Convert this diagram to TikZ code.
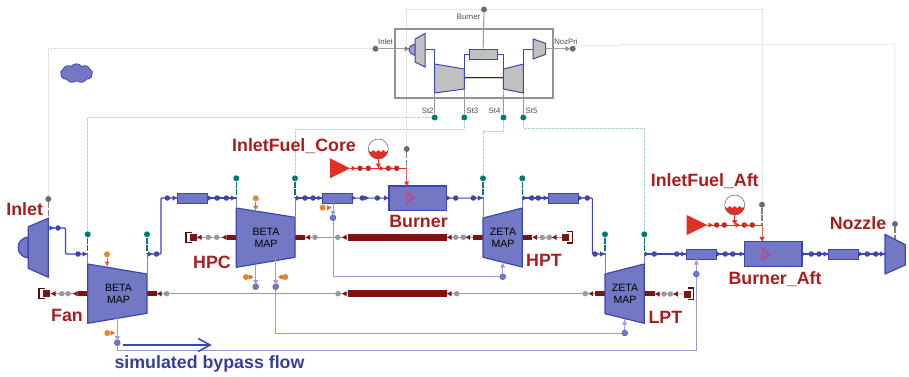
\documentclass[tikz,border=0pt]{standalone}
\usepackage{fontspec}
\setmainfont{Liberation Sans}
\usepackage{tikz}
\usetikzlibrary{arrows.meta,shapes.symbols}

\definecolor{machfill}{HTML}{7378C4}
\definecolor{machline}{HTML}{3B47AE}
\definecolor{bleedline}{HTML}{9A9FDC}
\definecolor{dkred}{HTML}{7A1512}
\definecolor{lblred}{HTML}{A81E1E}
\definecolor{fuelred}{HTML}{E23024}
\definecolor{tealport}{HTML}{007A75}
\definecolor{orangeport}{HTML}{E08A20}
\definecolor{orangetip}{HTML}{F0602A}
\definecolor{subfill}{HTML}{C0C0C0}

\tikzset{
  machine/.style={draw=machline, fill=machfill, line width=1.2pt, line join=round},
  submach/.style={draw=machline, fill=subfill, line width=1pt},
  pipe/.style={draw=machline, fill=machfill, line width=1pt, minimum height=10pt, inner sep=0pt},
  flow/.style={draw=machline, line width=1.1pt, rounded corners=1pt},
  bleed/.style={draw=bleedline, line width=0.9pt},
  gline/.style={draw=gray!80, line width=0.8pt},
  gdash/.style={draw=gray!28, line width=0.8pt, dash pattern=on 3pt off 1pt},
  tdash/.style={draw=tealport!32, line width=0.8pt, dash pattern=on 3pt off 1pt},
  portdash/.style={line width=1.1pt, dash pattern=on 6pt off 1.5pt},
  port/.style={circle, inner sep=0pt, minimum size=6pt},
  gport/.style={port, fill=gray!85!black},
  tport/.style={port, fill=tealport},
  oport/.style={port, fill=orangeport},
  bport/.style={port, fill=machfill, draw=machline, line width=0.3pt},
  bdot/.style={port, minimum size=5.5pt, fill=machline},
  sdot/.style={port, minimum size=5.5pt, fill=gray!80},
  rdot/.style={port, minimum size=5.5pt, fill=fuelred!85!black},
  stub/.style={fill=dkred, inner sep=0pt, minimum height=5.5pt},
  lbl/.style={font=\bfseries\fontsize{17.8}{18}\selectfont, text=lblred, inner sep=0pt},
  sublbl/.style={font=\fontsize{7.8}{9}\selectfont, text=black!70, inner sep=0pt},
  maplbl/.style={font=\fontsize{10.6}{11.8}\selectfont, align=center, inner sep=0pt},
  tank/.style={circle, draw=gray!70!black, fill=white, line width=0.5pt, minimum size=20pt, inner sep=0pt,
    path picture={\fill[fuelred, shift={(path picture bounding box.center)}]
      (-10,1) .. controls (-8,3.5) and (-7,3.5) .. (-5,1) .. controls (-4,3.5) and (-2,3.5) .. (0,1)
      .. controls (2,3.5) and (4,3.5) .. (5,1) .. controls (7,3.5) and (8,3.5) .. (10,1)
      -- (10,11) -- (-10,11) -- cycle;}}
}

\newcommand{\flowtip}[4]{\fill[#4,shift={(#1,#2)},rotate=#3] (0,0) -- (-4.5,-2.6) -- (-4.5,2.6) -- cycle;}

\begin{document}
\begin{tikzpicture}[x=1pt,y=-1pt]
  \useasboundingbox (0,0) rectangle (909,376);

  % Ports of the engine sub-model
  \node[gport] (SubInlet) at (375.5,48.7) {};
  \node[gport] (SubBurner) at (484,9.5) {};
  \node[gport] (SubNoz) at (572.7,48.7) {};
  \node[tport] (St2) at (434.7,117.5) {};
  \node[tport] (St3) at (464.3,117.5) {};
  \node[tport] (St4) at (503.5,117.5) {};
  \node[tport] (St5) at (523.3,117.5) {};

  % Ports of the big model
  \node[gport] (InletPort) at (48.3,199) {};
  \node[tport] (FanPortIn) at (87.7,234.3) {};
  \node[tport] (FanPortOut) at (147,234.3) {};
  \node[tport] (HPCPortIn) at (236.3,178.3) {};
  \node[tport] (HPCPortOut) at (295,178.3) {};
  \node[tport] (HPTPortIn) at (483,178.3) {};
  \node[tport] (HPTPortOut) at (522.3,178.3) {};
  \node[tport] (LPTPortIn) at (605,234.3) {};
  \node[tport] (LPTPortOut) at (644.3,234.3) {};
  \node[gport] (CorePort) at (406.7,149) {};
  \node[gport] (AftPort) at (762,204.7) {};
  \node[gport] (NozPort) at (895,224) {};

  % Dashed signal lines
  \draw[gdash] (SubInlet) -| (InletPort);
  \draw[gdash] (SubBurner) -| (CorePort);
  \draw[gdash] (SubBurner) -| (AftPort);
  \draw[gdash] (SubNoz) -- ++(4,-3) -- ++(44,0) -- ++(0,-1.5) -| (NozPort);
  \draw[tdash] (St2) -| (FanPortIn);
  \draw[tdash] (St3) -- ++(0,11.5) -| (HPCPortOut);
  \draw[tdash] (St4) -- ++(0,13.5) -| (HPTPortIn);
  \draw[tdash] (St5) -- ++(0,10.8) -| (LPTPortOut);

  % Cloud
  \node[cloud, cloud puffs=9, cloud puff arc=105, aspect=1.7, draw=machline, fill=machfill, line width=0.8pt,
    minimum width=32pt, minimum height=19pt, inner sep=0pt] (Cloud) at (76.5,73.3) {};

  % Sub-model box
  \node[draw=gray!85, line width=1.1pt, minimum width=158pt, minimum height=69pt, inner sep=0pt] (SubBox) at (474,63.5) {};
  \node[sublbl] (SubLblInlet) at (385.5,41.5) {Inlet};
  \node[sublbl] (SubLblBurner) at (468.5,17) {Burner};
  \node[sublbl] (SubLblNoz) at (566,41.7) {NozPri};
  \node[sublbl] (SubLblSt2) at (427.7,110.7) {St2};
  \node[sublbl] (SubLblSt3) at (472.3,110.7) {St3};
  \node[sublbl] (SubLblSt4) at (494.5,110.7) {St4};
  \node[sublbl] (SubLblSt5) at (531.5,110.7) {St5};

  \node[pipe, fill=subfill, minimum width=28pt] (SubComb) at (483,54) {};
  \draw[gline, line width=1.1pt, gray!75] (SubBurner) -- (SubComb);
  \draw[gline, line width=1.1pt, gray!75] (SubInlet) -- (409,48.7);
  \flowtip{409}{48.7}{0}{gray}
  \flowtip{570}{48.7}{0}{gray}

  \draw[submach, fill=machfill!40!subfill] (415,44.2) .. controls (411,45) and (409,47) .. (409,49.7)
     .. controls (409,52) and (411,54.5) .. (415,55.3) -- cycle;
  \draw[submach] (415,39) -- (425,33.5) -- (425,67) -- (415,62) -- cycle;
  \draw[submach] (434.7,64) coordinate (SubCL) -- (464.3,69) coordinate (SubCR) -- (464.3,89) coordinate (SubCRb) -- (434.7,93) coordinate (SubCLb) -- cycle;
  \draw[submach] (503.3,69) coordinate (SubTL) -- (523.3,64) coordinate (SubTR) -- (523.3,93) coordinate (SubTRb) -- (503.3,89) coordinate (SubTLb) -- cycle;
  \draw[submach] (533,39) -- (545.7,43.3) -- (545.7,54.3) -- (533,59) -- cycle;

  \draw[machline, line width=0.8pt] (425,49) -| (SubCL);
  \draw[machline, line width=0.8pt] (SubCR) |- (SubComb.west);
  \draw[machline, line width=0.8pt] (SubComb.east) -| (SubTL);
  \draw[machline, line width=0.8pt] (SubTR) |- (533,49);
  \draw[gline, line width=1.1pt, gray!75] (545.7,48.7) -- (SubNoz);
  \draw[gline] (SubCLb) -- (St2);
  \draw[gline] (SubCRb) -- (St3);
  \draw[gline] (SubTLb) -- (St4);
  \draw[gline] (SubTRb) -- (St5);
  \draw[dkred!80!black, line width=0.9pt, double=gray!40, double distance=0.6pt] (464.9,78) -- (502.7,78);

  % Shaft parts
  \node[stub, minimum width=10pt] (FanStubL) at (82.7,293.7) {};
  \node[stub, minimum width=10pt] (FanStubR) at (152,293.7) {};
  \node[stub, minimum width=10pt] (LPTStubL) at (600,293.7) {};
  \node[stub, minimum width=10pt] (LPTStubR) at (649.5,293.7) {};
  \node[stub, minimum width=10pt] (HPCStubL) at (231.5,237.3) {};
  \node[stub, minimum width=10pt] (HPCStubR) at (300,237.3) {};
  \node[stub, minimum width=10pt] (HPTStubL) at (478,237.3) {};
  \node[stub, minimum width=10pt] (HPTStubR) at (527.3,237.3) {};
  \node[stub, minimum width=99pt, minimum height=6.5pt] (LowShaft) at (397.5,293.7) {};
  \node[stub, minimum width=99pt, minimum height=6.5pt] (HighShaft) at (397,237.3) {};
  \node[stub, minimum width=7pt, minimum height=7pt] (FanEnd) at (46.5,293.7) {};
  \node[stub, minimum width=7pt, minimum height=7pt] (HPCEnd) at (193.5,237.3) {};
  \node[stub, minimum width=7pt, minimum height=7pt] (HPTEnd) at (565.8,237.3) {};
  \node[stub, minimum width=7pt, minimum height=7pt] (LPTEnd) at (687.2,294) {};

  \draw[gline] (FanEnd) -- (FanStubL);
  \draw[gline] (FanStubR) -- (LowShaft);
  \draw[gline] (LowShaft) -- (LPTStubL);
  \draw[gline] (LPTStubR) -- (LPTEnd);
  \draw[gline] (HPCEnd) -- (HPCStubL);
  \draw[gline] (HPCStubR) -- (HighShaft);
  \draw[gline] (HighShaft) -- (HPTStubL);
  \draw[gline] (HPTStubR) -- (HPTEnd);

  % Shaft end caps
  \draw[dkred!70!black, line width=1.4pt] (45,288.5) -- (39,288.5) -- (39,298.5) -- (45,298.5);
  \draw[dkred!70!black, line width=1.4pt] (192,232.7) -- (186,232.7) -- (186,242.7) -- (192,242.7);
  \draw[dkred!70!black, line width=1.4pt] (567,231.7) -- (572.5,231.7) -- (572.5,243) -- (567,243);
  \draw[dkred!70!black, line width=1.4pt] (688,288) -- (693.5,288) -- (693.5,299.3) -- (688,299.3);

  \foreach \x/\y [count=\i] in {61.7/293.7,68/293.7,166.7/293.7,338/293.7,456.7/293.7,585.3/293.7,
      208.3/237.3,216.7/237.3,315/237.3,337.7/237.3,455.7/237.3,463.3/237.3,542.3/237.3,549.3/237.3,664/294,670.3/294}
    \node[sdot] (sdot\i) at (\x,\y) {};
  \foreach \x/\y in {51/293.7,73/293.7,157/293.7,342/293.7,447/293.7,588.7/293.7,
      197/237.3,222/237.3,305.5/237.3,342/237.3,447/237.3,465.7/237.3,532.5/237.3,552/237.3,655/294,673.3/294}
    {\flowtip{\x}{\y}{180}{dkred}}

  % Flow nodes
  \node[pipe, minimum width=30pt] (Duct1) at (192.7,198) {};
  \node[pipe, minimum width=30pt] (Duct2) at (337.7,198) {};
  \node[pipe, minimum width=30pt] (Duct3) at (563.3,198) {};
  \node[pipe, minimum width=30pt] (Duct4) at (701,254) {};
  \node[pipe, minimum width=30pt] (Duct5) at (843.7,254) {};
  \node[pipe, line width=1.2pt, minimum width=57.7pt, minimum height=24.7pt] (Burner) at (417.8,198.3) {};
  \node[pipe, line width=1.2pt, minimum width=57.3pt, minimum height=25.4pt] (BurnerAft) at (773.3,254) {};

  % Inlet
  \draw[machine] (28.3,237) .. controls (21,238) and (18,243) .. (18.3,247.5) .. controls (18,252) and (21,257) .. (28.3,258) -- cycle;
  \draw[machine] (28.3,226.7) -- (48.3,218.3) coordinate (InletT) -- (48.3,277.3) -- (28.3,268.3) -- cycle;

  % Fan
  \draw[machine] (87.7,264) coordinate (FanTL) -- (147,274) coordinate (FanTR) -- (147,313.3) -- (87.7,323.3) -- cycle;
  \node[maplbl] (FanMap) at (118.5,293.7) {BETA\\MAP};
  % HPC
  \draw[machine] (236.3,208) coordinate (HPCTL) -- (295,217.3) coordinate (HPCTR) -- (295,257.3) -- (236.3,267.3) -- cycle;
  \node[maplbl] (HPCMap) at (266,237.5) {BETA\\MAP};
  % HPT
  \draw[machine] (483,218) coordinate (HPTTL) -- (522.3,208) coordinate (HPTTR) -- (522.3,267) -- (483,257.3) -- cycle;
  \node[maplbl] (HPTMap) at (503,237.8) {ZETA\\MAP};
  % LPT
  \draw[machine] (605,274) coordinate (LPTTL) -- (644.3,264) coordinate (LPTTR) -- (644.3,323.3) -- (605,313.7) -- cycle;
  \node[maplbl] (LPTMap) at (625,294) {ZETA\\MAP};
  % Nozzle
  \draw[machine] (885,234.3) -- (905.3,244.7) -- (905.3,265) -- (885,274) -- cycle;

  % Main gas path
  \coordinate (InletOut) at (48.3,228);
  \coordinate (FanIn) at (87.7,254);
  \coordinate (FanOut) at (147,254);
  \coordinate (HPCIn) at (236.3,198);
  \coordinate (HPCOut) at (295,198);
  \coordinate (HPTIn) at (483,198);
  \coordinate (HPTOut) at (522.3,198);
  \coordinate (LPTIn) at (605,254);
  \coordinate (LPTOut) at (644.3,254);
  \coordinate (NozIn) at (885,254);
  \coordinate (NozT) at (895,239);

  \draw[flow] (InletOut) -- (65.5,228) |- (FanIn);
  \draw[flow] (FanOut) -- (161,254) |- (Duct1.west);
  \draw[flow] (Duct1) -- (HPCIn);
  \draw[flow] (HPCOut) -- (Duct2);
  \draw[flow] (Duct2) -- (Burner);
  \draw[flow] (Burner) -- (HPTIn);
  \draw[flow] (HPTOut) -- (Duct3);
  \draw[flow] (Duct3.east) -- (592.3,198) |- (LPTIn);
  \draw[flow] (LPTOut) -- (Duct4);
  \draw[flow] (Duct4) -- (BurnerAft);
  \draw[flow] (BurnerAft) -- (Duct5);
  \draw[flow] (Duct5) -- (NozIn);

  % Station ports down to the machines
  \foreach \a/\b/\c in {FanPortIn/FanIn/FanTL,FanPortOut/FanOut/FanTR,HPCPortIn/HPCIn/HPCTL,HPCPortOut/HPCOut/HPCTR,
      HPTPortIn/HPTIn/HPTTL,HPTPortOut/HPTOut/HPTTR,LPTPortIn/LPTIn/LPTTL,LPTPortOut/LPTOut/LPTTR}
  {
    \draw[tealport, portdash] (\a) -- (\b);
    \draw[machline!70!white, line width=0.9pt] (\b) -- (\c);
  }
  \draw[gray, portdash] (InletPort) -- (InletT);
  \draw[gray, portdash] (NozPort) -- (NozT);

  % Flow dots and tips
  \foreach \x/\y [count=\i] in {58/228,78/254,156.5/254,167.3/198,217/198,226.3/198,305/198,313/198,362.3/198,377.3/198,
      455.7/198,473.3/198,531.7/198,538.3/198,587.3/198,595/254,654.3/254,676.7/254,725.3/254,732.7/254,811.3/254,819/254,867.3/254,875.7/254}
    \node[bdot] (bdot\i) at (\x,\y) {};
  \foreach \x/\y in {54/228,87/254,152.5/254,177/198,212.5/198,222/198,235.5/198,300.5/198,322/198,356/198,369/198,388.5/198,
      451/198,482.5/198,527/198,548/198,583/198,604.5/254,649/254,685.5/254,721/254,744/254,806/254,828/254,863/254,884.5/254}
    {\flowtip{\x}{\y}{0}{machline}}

  % Bleed lines
  \node[bport] (FanBleed) at (117.3,342.7) {};
  \node[bport] (HPCBleedA) at (255.7,286.7) {};
  \node[bport] (HPCBleedB) at (275.7,286.7) {};
  \node[bport] (DuctBleed) at (333,217.7) {};
  \node[bport] (HPTCool) at (502.7,276.7) {};
  \node[bport] (LPTCool) at (624.7,333) {};
  \node[bport] (AftMix) at (696.3,274) {};

  \draw[bleed] (117.3,318) -- (FanBleed);
  \draw[bleed] (FanBleed) |- (696.3,350.7) -- (AftMix);
  \draw[bleed] (AftMix) -- (696.3,259);
  \draw[bleed] (255.7,265) -- (HPCBleedA);
  \draw[bleed] (275.7,258) -- (HPCBleedB);
  \draw[bleed] (HPCBleedB) |- (LPTCool);
  \draw[bleed] (LPTCool) -- (624.7,319);
  \draw[bleed] (333,203) -- (DuctBleed);
  \draw[bleed] (DuctBleed) |- (HPTCool);
  \draw[bleed] (HPTCool) -- (502.7,262);
  \flowtip{117.3}{340.5}{-90}{bleedline}
  \flowtip{255.7}{284.5}{-90}{bleedline}
  \flowtip{275.7}{284.5}{-90}{bleedline}
  \flowtip{333}{215.5}{-90}{bleedline}
  \flowtip{696.3}{260}{90}{bleedline}
  \flowtip{502.7}{263}{90}{bleedline}
  \flowtip{624.7}{320}{90}{bleedline}

  % Map inputs
  \node[oport] (FanMapIn) at (107,254.3) {};
  \node[oport] (HPCMapIn) at (255.7,198.3) {};
  \node[oport] (FanBleedIn) at (107.3,333) {};
  \node[oport] (HPCBleedInA) at (246,277) {};
  \node[oport] (HPCBleedInB) at (285.3,277) {};
  \node[oport] (DuctBleedIn) at (322.7,207.7) {};
  \draw[orangetip, line width=0.7pt] (FanMapIn) -- (107,266);
  \draw[orangetip, line width=0.7pt] (HPCMapIn) -- (255.7,210);
  \flowtip{107}{266}{-90}{orangetip}
  \flowtip{255.7}{210}{-90}{orangetip}
  \flowtip{115}{333}{0}{orangetip}
  \flowtip{253.5}{277}{0}{orangetip}
  \flowtip{278}{277}{180}{orangetip}
  \flowtip{331.5}{207.7}{0}{orangetip}

  % Fuel for the core burner
  \node[tank] (CoreTank) at (378.3,149) {};
  \fill[fuelred] (330,158.3) -- (350,168.3) coordinate (CoreFuel) -- (330,178.3) -- cycle;
  \coordinate (CoreJoin) at (406.7,168.3);
  \coordinate (CoreDrop) at (406.7,186);
  \draw[fuelred, line width=0.8pt] (CoreFuel) -- (CoreJoin);
  \draw[fuelred, line width=0.8pt] (CoreTank) -- (378.3,168.3);
  \draw[gray, portdash] (CorePort) -- (CoreJoin);
  \draw[fuelred!75!white, line width=0.9pt] (CoreJoin) -- (CoreDrop);
  \foreach \x [count=\i] in {360,368.3,388.3,396.7}
    \node[rdot] (crdot\i) at (\x,168.3) {};
  \foreach \x in {356,384,392.5}
    {\flowtip{\x}{168.3}{0}{fuelred}}
  \flowtip{378.3}{168}{-90}{fuelred}
  \flowtip{406.7}{186}{-90}{fuelred}

  % Fuel for the aft burner
  \node[tank] (AftTank) at (734.7,205) {};
  \fill[fuelred] (686.7,215) -- (707.3,225) coordinate (AftFuel) -- (686.7,235) -- cycle;
  \coordinate (AftJoin) at (762,225);
  \coordinate (AftDrop) at (762,241.3);
  \draw[fuelred, line width=0.8pt] (AftFuel) -- (AftJoin);
  \draw[fuelred, line width=0.8pt] (AftTank) -- (734.7,225);
  \draw[gray, portdash] (AftPort) -- (AftJoin);
  \draw[fuelred!75!white, line width=0.9pt] (AftJoin) -- (AftDrop);
  \foreach \x [count=\i] in {716.7,724.3,744.3,752.3}
    \node[rdot] (ardot\i) at (\x,225) {};
  \foreach \x in {713,740,748.5}
    {\flowtip{\x}{225}{0}{fuelred}}
  \flowtip{734.7}{224.7}{-90}{fuelred}
  \flowtip{762}{241.3}{-90}{fuelred}

  % Burner marks
  \foreach \x/\y in {406.7/198,762.3/254.3}
    \draw[fuelred!70!magenta, line width=0.5pt, shift={(\x,\y)}] (0,-5.8) -- (8,0) -- (0,5.8) -- cycle (2.7,-3.8) -- (2.7,3.8) (5.3,-1.9) -- (5.3,1.9);

  % Bypass arrow
  \coordinate (BypassA) at (123.3,345);
  \coordinate (BypassB) at (211.7,345);
  \draw[machline, line width=1.8pt, -{Straight Barb[length=12pt,width=13pt,line width=1.5pt]}] (BypassA) -- (BypassB);

  % Labels
  \node[lbl] (LblInlet) at (24.7,209) {Inlet};
  \node[lbl] (LblFan) at (67,315) {Fan};
  \node[lbl] (LblHPC) at (212,262.7) {HPC};
  \node[lbl] (LblFuelCore) at (294,146) {InletFuel\_Core};
  \node[lbl] (LblBurner) at (418.5,221.7) {Burner};
  \node[lbl] (LblHPT) at (544,260) {HPT};
  \node[lbl] (LblLPT) at (665.3,317.3) {LPT};
  \node[lbl] (LblFuelAft) at (704.7,180.7) {InletFuel\_Aft};
  \node[lbl] (LblBurnerAft) at (775,279) {Burner\_Aft};
  \node[lbl] (LblNozzle) at (858,223.3) {Nozzle};
  \node[lbl, text=machline!90!black] (LblBypass) at (209.5,364) {simulated bypass flow};
\end{tikzpicture}
\end{document}
